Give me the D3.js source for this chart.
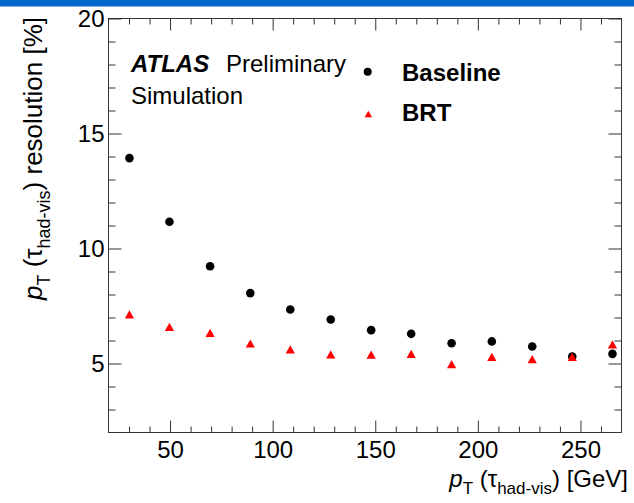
<!DOCTYPE html>
<html>
<head>
<meta charset="utf-8">
<script src="https://cdn.jsdelivr.net/npm/d3@7"></script>
<style>
  html, body { margin: 0; padding: 0; background: #fff; }
  svg { display: block; font-family: "Liberation Sans", Arial, Helvetica, sans-serif; }
</style>
</head>
<body>
<svg id="chart" width="634" height="503"></svg>
<script>
// ---- data ----
const ptBins = [30.2, 49.7, 69.5, 89.1, 108.6, 128.3, 148.0, 167.5, 187.2, 206.8, 226.5, 246.0, 265.6];
const baseline = [13.93, 11.16, 9.23, 8.06, 7.35, 6.91, 6.45, 6.29, 5.88, 5.96, 5.74, 5.30, 5.42];
const brt = [7.14, 6.59, 6.33, 5.87, 5.61, 5.40, 5.39, 5.42, 4.97, 5.29, 5.19, 5.29, 5.83];
const xMajorTicks = [50, 100, 150, 200, 250];
const xMinorTicks = [30, 40, 60, 70, 80, 90, 110, 120, 130, 140, 160, 170, 180, 190, 210, 220, 230, 240, 260];
const yMajorTicks = [5, 10, 15, 20];
const yMinorTicks = [3, 4, 6, 7, 8, 9, 11, 12, 13, 14, 16, 17, 18, 19];
const seriesNames = ["Baseline", "BRT"];

const svg = d3.select("#chart");
const L = 108.5, R = 621.5, T = 18.5, B = 432.5;
const x = d3.scaleLinear().domain([20, 270]).range([L, R]);
const y = d3.scaleLinear().domain([2, 20]).range([B, T]);
const axisColor = "#333";

// top blue band
svg.append("rect").attr("x", 0).attr("y", 0).attr("width", 634).attr("height", 6.5).attr("fill", "#0066cc");

function styleAxis(g) {
  g.select(".domain").remove();
  g.selectAll(".tick line").attr("stroke", axisColor).attr("stroke-width", 1);
  g.selectAll(".tick text").attr("fill", "#000").style("font-size", "24px")
    .style("font-family", '"Liberation Sans", Arial, Helvetica, sans-serif');
}

// bottom axis
svg.append("g").attr("transform", `translate(0,${B})`)
  .call(d3.axisBottom(x).tickValues(xMajorTicks).tickSize(-12).tickPadding(8).tickFormat(d3.format("d")))
  .call(styleAxis);
svg.append("g").attr("transform", `translate(0,${B})`)
  .call(d3.axisBottom(x).tickValues(xMinorTicks).tickSize(-6).tickFormat(""))
  .call(styleAxis);
// top axis
svg.append("g").attr("transform", `translate(0,${T})`)
  .call(d3.axisTop(x).tickValues(xMajorTicks).tickSize(-12).tickFormat(""))
  .call(styleAxis);
svg.append("g").attr("transform", `translate(0,${T})`)
  .call(d3.axisTop(x).tickValues(xMinorTicks).tickSize(-6).tickFormat(""))
  .call(styleAxis);
// left axis
svg.append("g").attr("transform", `translate(${L},0)`)
  .call(d3.axisLeft(y).tickValues(yMajorTicks).tickSize(-13).tickPadding(4).tickFormat(d3.format("d")))
  .call(styleAxis);
svg.append("g").attr("transform", `translate(${L},0)`)
  .call(d3.axisLeft(y).tickValues(yMinorTicks).tickSize(-7).tickFormat(""))
  .call(styleAxis);
// right axis
svg.append("g").attr("transform", `translate(${R},0)`)
  .call(d3.axisRight(y).tickValues(yMajorTicks).tickSize(-13).tickFormat(""))
  .call(styleAxis);
svg.append("g").attr("transform", `translate(${R},0)`)
  .call(d3.axisRight(y).tickValues(yMinorTicks).tickSize(-7).tickFormat(""))
  .call(styleAxis);

// frame
svg.append("rect").attr("x", L).attr("y", T).attr("width", R - L).attr("height", B - T)
  .attr("fill", "none").attr("stroke", axisColor).attr("stroke-width", 1);

// markers
const tri = (w, h) => `M0,${-h / 2}L${w / 2},${h / 2}L${-w / 2},${h / 2}Z`;
svg.append("g").selectAll("circle").data(baseline).join("circle")
  .attr("cx", (d, i) => x(ptBins[i])).attr("cy", d => y(d)).attr("r", 4.3).attr("fill", "#000");
svg.append("g").selectAll("path").data(brt).join("path")
  .attr("transform", (d, i) => `translate(${x(ptBins[i])},${y(d)})`)
  .attr("d", tri(9.2, 8.2)).attr("fill", "#ff0000");

// ATLAS label
const atl = svg.append("text").attr("x", 131).attr("y", 72).style("font-size", "24px");
atl.append("tspan").text("ATLAS").style("font-weight", "bold").style("font-style", "italic");
atl.append("tspan").attr("x", 226).text("Preliminary");
svg.append("text").attr("x", 131).attr("y", 104).style("font-size", "24px").text("Simulation");

// legend
svg.append("circle").attr("cx", 367.7).attr("cy", 71.7).attr("r", 4).attr("fill", "#000");
svg.append("path").attr("transform", "translate(368.3,114)").attr("d", tri(7.5, 6.5)).attr("fill", "#ff0000");
svg.append("text").attr("x", 402).attr("y", 80.7).style("font-size", "24px").style("font-weight", "bold").text(seriesNames[0]);
svg.append("text").attr("x", 402).attr("y", 120.7).style("font-size", "24px").style("font-weight", "bold").text(seriesNames[1]);

// axis titles
function ptTitle(sel, tail, fs) {
  const sub = Math.round(fs * 0.7), sh = Math.round(fs * 0.3);
  sel.style("font-size", fs + "px");
  sel.append("tspan").text("p").style("font-style", "italic");
  sel.append("tspan").text("T").style("font-size", sub + "px").attr("dy", sh);
  sel.append("tspan").text(" (τ").attr("dy", -sh);
  sel.append("tspan").text("had-vis").style("font-size", sub + "px").attr("dy", sh);
  sel.append("tspan").text(")" + tail).attr("dy", -sh);
}
const xt = svg.append("text").attr("x", 628).attr("y", 487).attr("text-anchor", "end");
ptTitle(xt, " [GeV]", 24);
const yt = svg.append("text").attr("transform", "translate(42,17) rotate(-90)").attr("text-anchor", "end");
ptTitle(yt, " resolution [%]", 26);
</script>
</body>
</html>
